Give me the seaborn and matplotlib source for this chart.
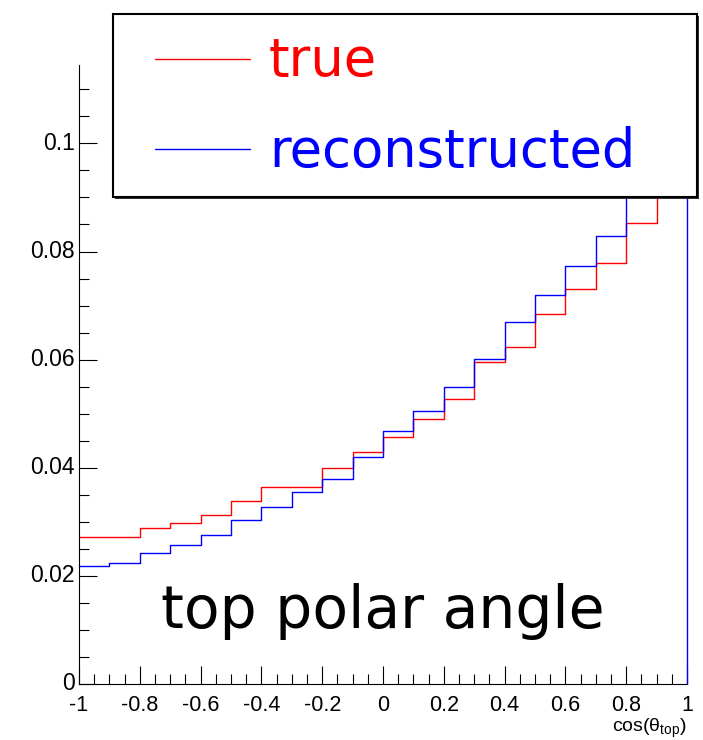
import numpy as np
import pandas as pd
import matplotlib
matplotlib.use("Agg")
import matplotlib.pyplot as plt
from matplotlib.lines import Line2D
from matplotlib.patches import Rectangle
import seaborn as sns

# ---- data -------------------------------------------------------------
bin_edges = [round(v, 2) for v in np.linspace(-1.0, 1.0, 21)]
true_vals = [0.0271, 0.0272, 0.0288, 0.0298, 0.0312, 0.0339, 0.0364, 0.0364,
             0.0400, 0.0429, 0.0456, 0.0491, 0.0527, 0.0596, 0.0624, 0.0684,
             0.0731, 0.0779, 0.0853, 0.0935]
reco_vals = [0.0219, 0.0224, 0.0242, 0.0258, 0.0275, 0.0304, 0.0327, 0.0355,
             0.0380, 0.0419, 0.0468, 0.0505, 0.0549, 0.0602, 0.0669, 0.0719,
             0.0774, 0.0828, 0.0915, 0.1000]
series_names = ["true", "reconstructed"]
series_colors = ["#ff0000", "#0000ff"]
x_ticks = [-1, -0.8, -0.6, -0.4, -0.2, 0, 0.2, 0.4, 0.6, 0.8, 1]
x_ticklabels = ["-1", "-0.8", "-0.6", "-0.4", "-0.2", "0", "0.2", "0.4", "0.6", "0.8", "1"]
y_ticks = [0, 0.02, 0.04, 0.06, 0.08, 0.1]
y_ticklabels = ["0", "0.02", "0.04", "0.06", "0.08", "0.1"]

edges_arr = np.array(bin_edges)
centers = (edges_arr[:-1] + edges_arr[1:]) / 2
df = pd.DataFrame({
    "x": np.concatenate([centers, centers]),
    "w": np.concatenate([true_vals, reco_vals]),
    "series": [series_names[0]] * len(centers) + [series_names[1]] * len(centers),
})

sns.set_theme(style="ticks")
plt.rcParams["font.family"] = ["Liberation Sans", "DejaVu Sans"]
plt.rcParams["mathtext.fontset"] = "custom"
plt.rcParams["mathtext.rm"] = "Liberation Sans"

fig = plt.figure(figsize=(7.03, 7.40), dpi=100)
ax = fig.add_axes([79 / 703, 1 - 684 / 740, 608 / 703, 619 / 740])

for name, col in zip(series_names, series_colors):
    sub = df[df["series"] == name]
    sns.histplot(data=sub, x="x", weights="w", bins=bin_edges, element="step",
                 fill=False, color=col, linewidth=1.0, ax=ax, zorder=2)
    if name == series_names[-1]:
        # closing edge of the top-most histogram outline (drops to zero)
        vals = sub["w"].to_numpy()
        ax.vlines([bin_edges[-1]], 0, [vals[-1]], color=col, linewidth=1.0,
                  zorder=2, clip_on=False)

ax.set_xlim(-1, 1)
ax.set_ylim(0, 0.1145)
ax.set_xticks(x_ticks)
ax.set_xticklabels(x_ticklabels)
ax.set_yticks(y_ticks)
ax.set_yticklabels(y_ticklabels, va="center")
ax.set_xticks(np.round(np.arange(-1, 1.0001, 0.05), 2), minor=True)
ax.set_yticks(np.round(np.arange(0, 0.1145, 0.005), 3), minor=True)
ax.tick_params(axis="both", which="both", direction="in", color="black", width=0.8,
               bottom=True, left=True, top=False, right=False)
ax.tick_params(axis="both", which="major", length=13)
ax.tick_params(axis="both", which="minor", length=7)
ax.tick_params(axis="x", which="major", labelsize=15.5, pad=8, labelcolor="black")
ax.tick_params(axis="y", which="major", labelsize=16.5, pad=3, labelcolor="black")
for s in ["top", "right"]:
    ax.spines[s].set_visible(False)
for s in ["left", "bottom"]:
    ax.spines[s].set_color("black")
    ax.spines[s].set_linewidth(0.8)
ax.set_ylabel("")
ax.set_xlabel(r"cos(θ$_{\mathrm{top}}$)", loc="right", fontsize=14, labelpad=0,
              color="black")

ax.text(0.5, 0.0905, "top polar angle", transform=ax.transAxes, ha="center",
        va="baseline", fontsize=42, family="DejaVu Sans", color="black")

# legend box with shadow
ax.add_patch(Rectangle((115 / 703, 1 - 199 / 740), 584 / 703, 183 / 740,
                       transform=fig.transFigure, facecolor="#333333",
                       edgecolor="none", zorder=4, clip_on=False))
ax.add_patch(Rectangle((113 / 703, 1 - 197 / 740), 584 / 703, 183 / 740,
                       transform=fig.transFigure, facecolor="white",
                       edgecolor="black", linewidth=1.5, zorder=4.1, clip_on=False))
handles = [Line2D([], [], color=c, linewidth=1.0) for c in series_colors]
leg = ax.legend(handles, series_names, frameon=False, loc="upper left",
                bbox_to_anchor=(155 / 703, 1 - 36 / 740), bbox_transform=fig.transFigure,
                borderpad=0, borderaxespad=0, handlelength=1.8, handletextpad=0.36,
                labelspacing=0.72, prop={"family": "DejaVu Sans", "size": 38},
                labelcolor="linecolor")
leg.set_zorder(5)

fig.savefig("out.png", dpi=100)
